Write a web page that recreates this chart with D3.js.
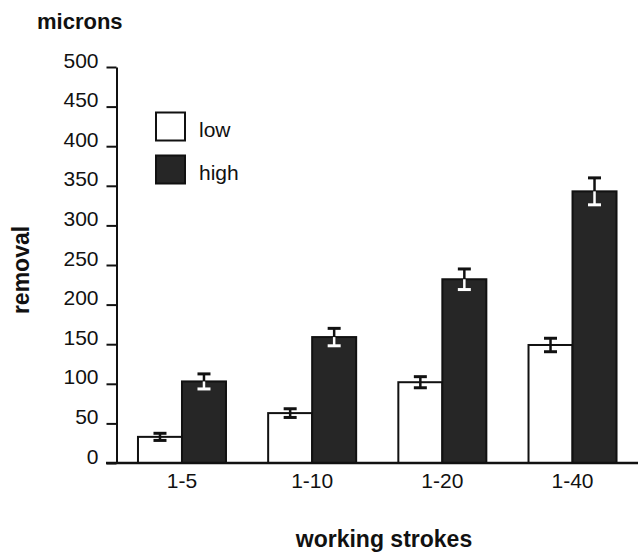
<!DOCTYPE html>
<html>
<head>
<meta charset="utf-8">
<script src="https://cdn.jsdelivr.net/npm/d3@7"></script>
<style>
  html, body { margin: 0; padding: 0; background: #fff; }
  svg { display: block; font-family: "Liberation Sans", Arial, Helvetica, sans-serif; }
</style>
</head>
<body>
<svg id="chart" width="638" height="552"></svg>
<script>
const categories = ["1-5", "1-10", "1-20", "1-40"];
const seriesNames = ["low", "high"];
const lowValues = [33, 63, 102, 149];
const highValues = [103, 159, 232, 343];
const lowErrors = [4.5, 5.5, 7, 8.5];
const highErrors = [9.5, 11, 13, 17];
const yTicks = [0, 50, 100, 150, 200, 250, 300, 350, 400, 450, 500];

const svg = d3.select("#chart");
const darkFill = "#262626";

const y = d3.scaleLinear().domain([0, 500]).range([463, 67]);
const x = d3.scaleBand().domain(categories).range([116.5, 638])
  .paddingInner(0.324).paddingOuter(0.165);
const xs = d3.scaleBand().domain(seriesNames).range([0, x.bandwidth()]);

const rows = categories.map((c, i) => ({
  cat: c,
  items: [
    {key: "low", value: lowValues[i], err: lowErrors[i]},
    {key: "high", value: highValues[i], err: highErrors[i]}
  ]
}));

// bars
const groups = svg.append("g").selectAll("g").data(rows).join("g")
  .attr("transform", d => `translate(${x(d.cat)},0)`);

groups.selectAll("rect").data(d => d.items).join("rect")
  .attr("x", d => xs(d.key))
  .attr("y", d => y(d.value))
  .attr("width", xs.bandwidth())
  .attr("height", d => y(0) - y(d.value))
  .attr("fill", d => d.key === "low" ? "#fff" : darkFill)
  .attr("stroke", "#111")
  .attr("stroke-width", 2);

// error bars
const capW = 13;
const eb = groups.selectAll("g.err").data(d => d.items).join("g").attr("class", "err")
  .attr("transform", d => `translate(${xs(d.key) + xs.bandwidth() / 2},0)`);

// upper half (always black)
eb.append("line")
  .attr("x1", 0).attr("x2", 0)
  .attr("y1", d => y(d.value)).attr("y2", d => y(d.value + d.err))
  .attr("stroke", "#111").attr("stroke-width", 2.5);
eb.append("line")
  .attr("x1", -capW / 2).attr("x2", capW / 2)
  .attr("y1", d => y(d.value + d.err)).attr("y2", d => y(d.value + d.err))
  .attr("stroke", "#111").attr("stroke-width", 3);
// lower half (white inside dark bars)
eb.append("line")
  .attr("x1", 0).attr("x2", 0)
  .attr("y1", d => y(d.value)).attr("y2", d => y(d.value - d.err))
  .attr("stroke", d => d.key === "high" ? "#fff" : "#111").attr("stroke-width", 2.5);
eb.append("line")
  .attr("x1", -capW / 2).attr("x2", capW / 2)
  .attr("y1", d => y(d.value - d.err)).attr("y2", d => y(d.value - d.err))
  .attr("stroke", d => d.key === "high" ? "#fff" : "#111").attr("stroke-width", 3);

// y axis
const yAxis = svg.append("g").attr("transform", "translate(116.5,0)")
  .call(d3.axisLeft(y).tickValues(yTicks).tickSize(10).tickSizeOuter(0).tickPadding(8));
yAxis.select(".domain").attr("stroke", "#111").attr("stroke-width", 2);
yAxis.selectAll(".tick line").attr("stroke", "#111").attr("stroke-width", 2);
yAxis.selectAll(".tick text")
  .attr("dy", "0").attr("x", -18)
  .attr("font-size", 21).attr("fill", "#111")
  .attr("font-family", "Liberation Sans, Arial, sans-serif");

// x baseline
svg.append("line")
  .attr("x1", 106).attr("x2", 638)
  .attr("y1", y(0)).attr("y2", y(0))
  .attr("stroke", "#111").attr("stroke-width", 2.5);

// x axis labels
const xAxis = svg.append("g").attr("transform", `translate(0,${y(0)})`)
  .call(d3.axisBottom(x).tickSize(0));
xAxis.select(".domain").remove();
xAxis.selectAll(".tick text")
  .attr("y", 25).attr("dy", "0")
  .attr("font-size", 21).attr("fill", "#111")
  .attr("font-family", "Liberation Sans, Arial, sans-serif");

// legend
const legend = svg.append("g");
const legendY = [112.5, 155.5];
seriesNames.forEach((s, i) => {
  legend.append("rect")
    .attr("x", 156).attr("y", legendY[i])
    .attr("width", 29).attr("height", 28)
    .attr("fill", s === "low" ? "#fff" : darkFill)
    .attr("stroke", "#111").attr("stroke-width", 2);
  legend.append("text")
    .attr("x", 199).attr("y", legendY[i] + 24)
    .attr("font-size", 21).attr("fill", "#111")
    .text(s);
});

// axis titles
svg.append("text")
  .attr("x", 37).attr("y", 29)
  .attr("font-size", 22).attr("font-weight", "bold").attr("fill", "#111")
  .text("microns");

svg.append("text")
  .attr("transform", "translate(29,270) rotate(-90)")
  .attr("text-anchor", "middle")
  .attr("font-size", 23).attr("font-weight", "bold").attr("fill", "#111")
  .text("removal");

svg.append("text")
  .attr("x", 384).attr("y", 547)
  .attr("text-anchor", "middle")
  .attr("font-size", 23).attr("font-weight", "bold").attr("fill", "#111")
  .text("working strokes");
</script>
</body>
</html>
